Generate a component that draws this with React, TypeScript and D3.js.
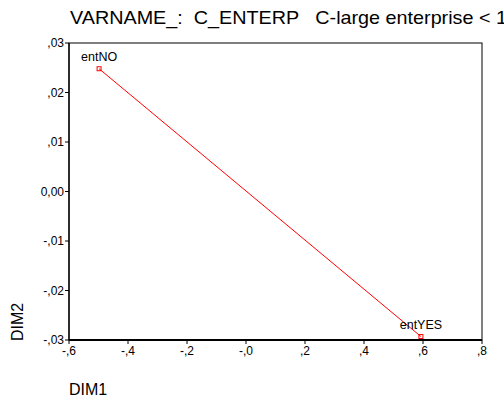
import React from "react";
import * as d3 from "d3";

const categories = ["entNO", "entYES"];
const dim1 = [-0.498, 0.593];
const dim2 = [0.0248, -0.0293];
const xTicks = [-0.6, -0.4, -0.2, 0, 0.2, 0.4, 0.6, 0.8];
const xTickLabels = ["-,6", "-,4", "-,2", "-,0", ",2", ",4", ",6", ",8"];
const yTicks = [0.03, 0.02, 0.01, 0, -0.01, -0.02, -0.03];
const yTickLabels = [",03", ",02", ",01", "0,00", "-,01", "-,02", "-,03"];
const title = "VARNAME_:  C_ENTERP   C-large enterprise < 1";

export default function App() {
  const W = 504, H = 402;
  const left = 69, right = 482, top = 43, bottom = 340;
  const x = d3.scaleLinear().domain([-0.6, 0.8]).range([left, right]);
  const y = d3.scaleLinear().domain([-0.03, 0.03]).range([bottom, top]);
  const font = "Arial, 'Liberation Sans', sans-serif";
  const line = d3.line<number>().x((i) => x(dim1[i])).y((i) => y(dim2[i]));
  return (
    <svg width={W} height={H} style={{ position: "absolute", left: 0, top: 0 }} fontFamily={font}>
      <rect width={W} height={H} fill="white" />
      <text x={70} y={24} fontSize={18.5} fill="#000" style={{ whiteSpace: "pre" }} textLength={437} lengthAdjust="spacingAndGlyphs">{title}</text>
      <rect x={left} y={top} width={right - left} height={bottom - top} fill="none" stroke="#000" strokeWidth={1} />
      <line x1={left} x2={right} y1={bottom} y2={bottom} stroke="#000" strokeWidth={2} />
      <line x1={left} x2={left} y1={top} y2={bottom} stroke="#000" strokeWidth={1.3} />
      {xTicks.map((t, i) => (
        <g key={"x" + i}>
          <line x1={x(t)} x2={x(t)} y1={bottom} y2={bottom + 4} stroke="#000" />
          <text x={x(t)} y={355} fontSize={12} textAnchor="middle">{xTickLabels[i]}</text>
        </g>
      ))}
      {yTicks.map((t, i) => (
        <g key={"y" + i}>
          <line x1={left - 4} x2={left} y1={y(t)} y2={y(t)} stroke="#000" />
          <text x={left - 5} y={y(t) + 4} fontSize={12} textAnchor="end">{yTickLabels[i]}</text>
        </g>
      ))}
      <text transform={`translate(23,322) rotate(-90)`} fontSize={16} textAnchor="middle">DIM2</text>
      <text x={69} y={395} fontSize={16}>DIM1</text>
      <path d={line([0, 1]) || ""} fill="none" stroke="#ff0000" strokeWidth={1} />
      {categories.map((c, i) => (
        <g key={c}>
          <rect x={x(dim1[i]) - 2} y={y(dim2[i]) - 2} width={4} height={4} fill="none" stroke="#ff0000" strokeWidth={1} />
          <text x={x(dim1[i])} y={y(dim2[i]) - 8} fontSize={12.5} textAnchor="middle">{c}</text>
        </g>
      ))}
    </svg>
  );
}
